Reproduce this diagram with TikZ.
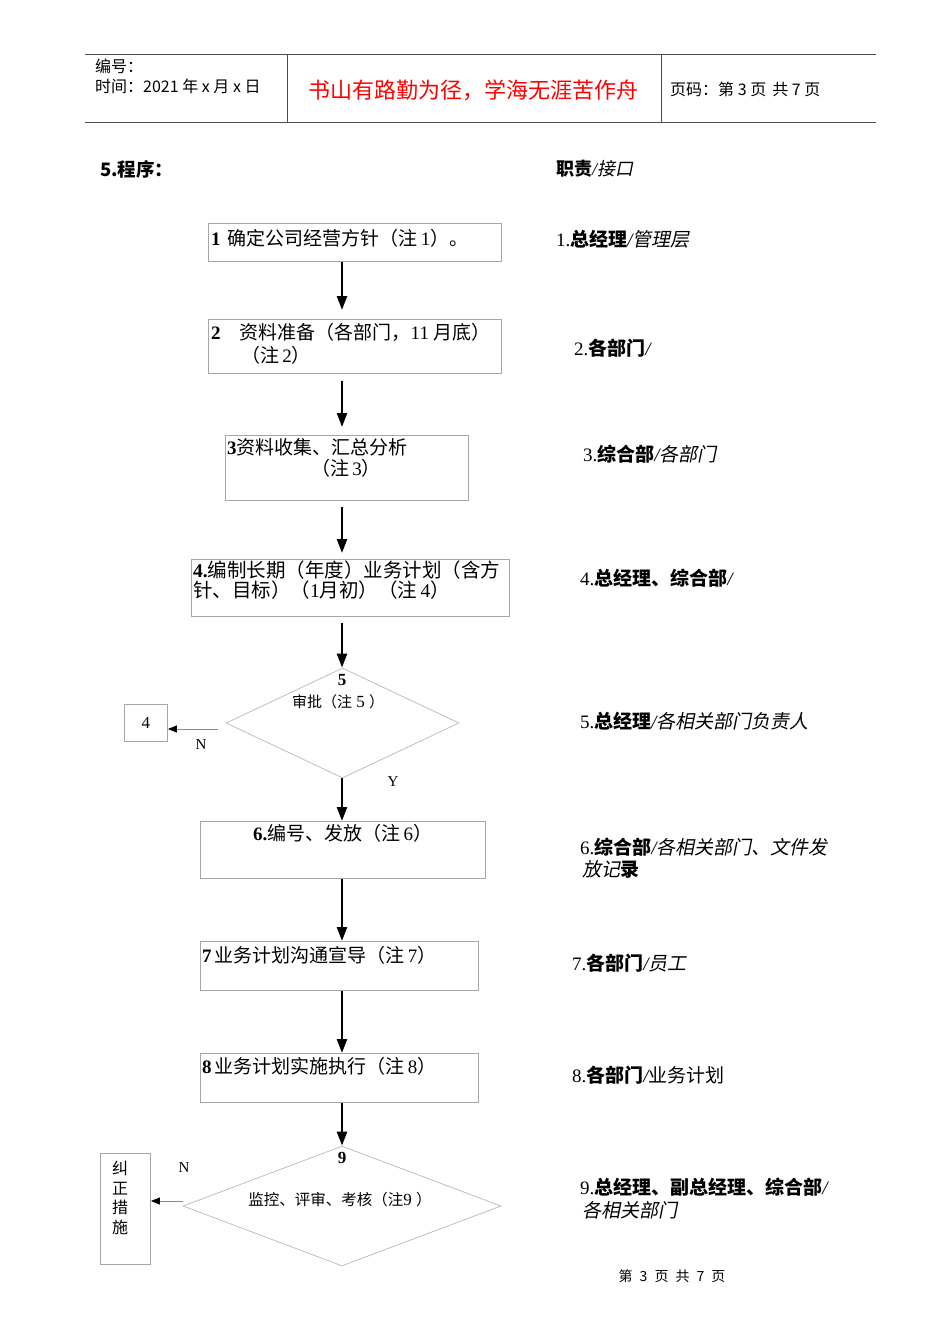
\documentclass[tikz,border=0pt]{standalone}
\usepackage{fontspec}
\setmainfont{Noto Sans CJK SC}
\newfontfamily\lser{Liberation Serif}
\newfontfamily\cjkit[FakeSlant=0.2]{Noto Sans CJK SC}
\usetikzlibrary{arrows.meta,shapes.geometric,calc}
\newcommand\slsh{{\lser\itshape /}}
\begin{document}
\begin{tikzpicture}[x=1pt,y=-1pt,
  boxs/.style={draw=black!35, line width=0.9pt, inner sep=0pt, anchor=north west},
  dia/.style={diamond, draw=black!25, line width=0.8pt, inner sep=0pt},
  flow/.style={line width=2.4pt, -{Triangle[length=14pt,width=10pt]}},
  side/.style={draw=black!45, line width=0.8pt, -{Triangle[length=9pt,width=7pt,color=black]}},
  tx/.style={anchor=west, inner sep=0pt, font=\fontsize{19}{23}\selectfont},
  txc/.style={tx, anchor=center},
  hd/.style={anchor=west, inner sep=0pt, font=\fontsize{16}{19}\selectfont},
  lbl/.style={inner sep=0pt, font=\fontsize{15}{18}\selectfont\lser},
  hline/.style={draw=black!70, line width=1pt}
]
\useasboundingbox (0,0) rectangle (950,1344);
\fill[white] (0,0) rectangle (950,1344);

% ---------- header ----------
\draw[hline] (85,54) -- (876,54);
\draw[hline] (85,122) -- (876,122);
\draw[hline] (287,54) -- (287,122);
\draw[hline] (661,54) -- (661,122);
\node[hd] (h1) at (95,66) {编号：};
\node[hd] (h2) at (95,86) {时间：2021 年 x 月 x 日};
\node[anchor=center, inner sep=0pt, text=red, font=\fontsize{22}{26}\selectfont] (h3) at (473,90) {书山有路勤为径，学海无涯苦作舟};
\node[hd] (h4) at (670,89) {页码：第 3 页\hspace{6pt}共 7 页};

% ---------- headings ----------
\node[tx, font=\fontsize{18.5}{22}\selectfont\bfseries] (s5) at (100,169) {5.程序：};
\node[tx, font=\fontsize{18}{22}\selectfont] (zz) at (556,169) {\textbf{职责}\slsh{\cjkit 接口}};

% ---------- boxes ----------
\node[boxs, minimum width=293, minimum height=38] (b1) at (208,223) {};
\node[boxs, minimum width=293, minimum height=54] (b2) at (208,319) {};
\node[boxs, minimum width=243, minimum height=65] (b3) at (225,435) {};
\node[boxs, minimum width=318, minimum height=57] (b4) at (191,559) {};
\node[dia, minimum width=233, minimum height=110] (d5) at (342.5,723) {};
\node[boxs, minimum width=43, minimum height=37, font=\fontsize{17}{20}\selectfont\lser] (b4s) at (124,704) {4\hspace{10pt}};
\node[boxs, minimum width=285, minimum height=57] (b6) at (200,821) {};
\node[boxs, minimum width=278, minimum height=49] (b7) at (200,941) {};
\node[boxs, minimum width=278, minimum height=49] (b8) at (200,1053) {};
\node[dia, minimum width=318, minimum height=120] (d9) at (342,1206) {};
\node[boxs, minimum width=50, minimum height=111] (bj) at (100,1153) {};

% ---------- box texts ----------
\node[tx] (t1) at (211,238) {{\lser\bfseries 1}\hspace{7pt}确定公司经营方针（注{\lser\,1}）。};
\node[tx] (t2a) at (211,332) {{\lser\bfseries 2}\hspace{19pt}资料准备（各部门，{\lser 11}\hspace{5pt}月底）};
\node[tx] (t2b) at (241,355) {（注{\lser\,2}）};
\node[tx] (t3a) at (227,447) {{\lser\bfseries 3}资料收集、汇总分析};
\node[txc] (t3b) at (346,468) {（注{\lser\,3}）};
\node[tx, font=\fontsize{19.5}{23}\selectfont] (t4a) at (193,570) {{\lser\bfseries 4.}编制长期（年度）业务计划（含方};
\node[tx, font=\fontsize{19.5}{23}\selectfont] (t4b) at (193,590) {针、目标）（{\lser 1}月初）（注{\lser\,4}）};
\node[inner sep=0pt, font=\fontsize{17}{20}\selectfont\lser\bfseries] (t5a) at (342,680) {5};
\node[inner sep=0pt, font=\fontsize{15}{18}\selectfont] (t5b) at (338,702) {审批（注{\lser\fontsize{17}{18}\selectfont\ 5 }）};
\node[tx] (t6) at (253,833) {{\lser\bfseries 6.}编号、发放（注{\lser\,6}）};
\node[tx] (t7) at (202,955) {{\lser\bfseries 7}\hspace{3pt}业务计划沟通宣导（注{\lser\,7}）};
\node[tx] (t8) at (202,1066) {{\lser\bfseries 8}\hspace{3pt}业务计划实施执行（注{\lser\,8}）};
\node[inner sep=0pt, font=\fontsize{17}{20}\selectfont\lser\bfseries] (t9a) at (342,1158) {9};
\node[inner sep=0pt, font=\fontsize{15.5}{18}\selectfont] (t9b) at (340,1200) {监控、评审、考核（注{\lser\fontsize{17}{18}\selectfont 9 }）};
\node[inner sep=0pt, align=center, font=\fontsize{16}{19.5}\selectfont] (tj) at (120,1198) {纠\\正\\措\\施};

% ---------- connectors ----------
\coordinate (ax) at (342,0);
\draw[flow, shorten >=9pt] (b1.south -| ax) -- (b2.north -| ax);
\draw[flow, shorten <=7pt, shorten >=8pt] (b2.south -| ax) -- (b3.north -| ax);
\draw[flow, shorten <=6pt, shorten >=6pt] (b3.south -| ax) -- (b4.north -| ax);
\draw[flow, shorten <=6pt] (b4.south -| ax) -- (d5.north -| ax);
\draw[flow] (d5.south -| ax) -- (b6.north -| ax);
\draw[flow] (b6.south -| ax) -- (b7.north -| ax);
\draw[flow] (b7.south -| ax) -- (b8.north -| ax);
\draw[flow] (b8.south -| ax) -- (d9.north -| ax);
\coordinate (n5) at (218,729);
\draw[side] (n5) -- (b4s.east |- n5);
\coordinate (n9) at (183,1201);
\draw[side] (n9) -- (bj.east |- n9);
\node[lbl] (lN1) at (201,745) {N};
\node[lbl] (lY) at (393,782) {Y};
\node[lbl] (lN2) at (184,1168) {N};

% ---------- responsibilities ----------
\node[tx] (r1) at (556,239) {{\lser 1.}\textbf{总经理}\slsh{\cjkit 管理层}};
\node[tx] (r2) at (574,348) {{\lser 2.}\textbf{各部门}\slsh};
\node[tx] (r3) at (583,454) {{\lser 3.}\textbf{综合部}\slsh{\cjkit 各部门}};
\node[tx] (r4) at (580,578) {{\lser 4.}\textbf{总经理、综合部}\slsh};
\node[tx] (r5) at (580,721) {{\lser 5.}\textbf{总经理}\slsh{\cjkit 各相关部门负责人}};
\node[tx] (r6a) at (580,847) {{\lser 6.}\textbf{综合部}\slsh{\cjkit 各相关部门、文件发}};
\node[tx] (r6b) at (582,869) {{\cjkit 放记}\textbf{录}};
\node[tx] (r7) at (572,963) {{\lser 7.}\textbf{各部门}\slsh{\cjkit 员工}};
\node[tx] (r8) at (572,1075) {{\lser 8.}\textbf{各部门}\slsh 业务计划};
\node[tx] (r9a) at (580,1187) {{\lser 9.}\textbf{总经理、副总经理、综合部}\slsh};
\node[tx] (r9b) at (582,1210) {\cjkit 各相关部门};

% ---------- footer ----------
\node[inner sep=0pt, font=\fontsize{14}{17}\selectfont] (ft) at (672,1276) {第\hspace{7pt}3\hspace{7pt}页\hspace{7pt}共\hspace{7pt}7\hspace{7pt}页};
\end{tikzpicture}
\end{document}
